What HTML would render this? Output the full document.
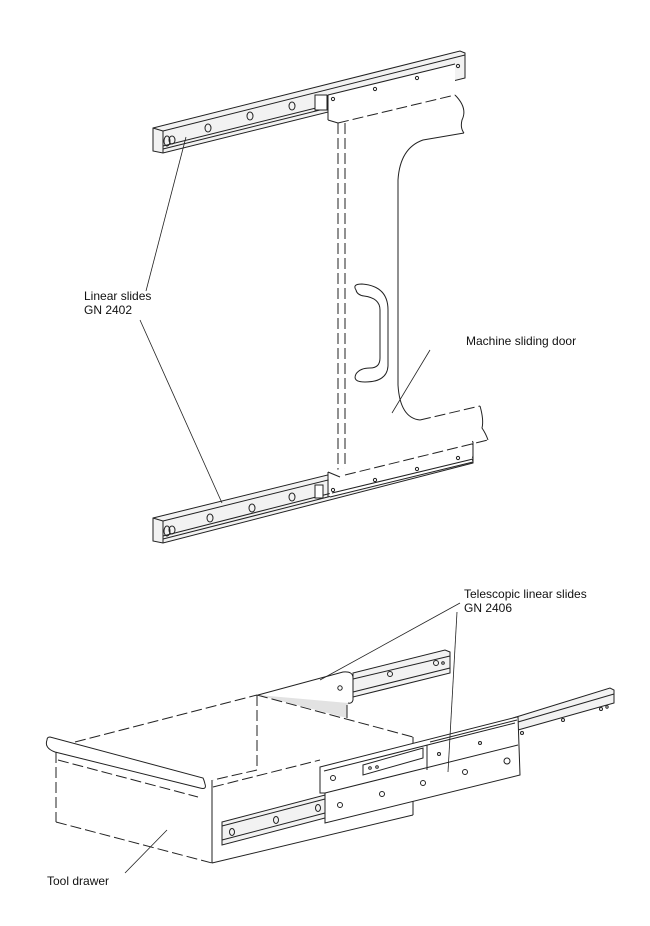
<!DOCTYPE html>
<html><head><meta charset="utf-8"><style>
html,body{margin:0;padding:0;background:#fff;}
svg{display:block}
text{font-family:"Liberation Sans",Arial,sans-serif;font-size:12px;fill:#111}
</style></head><body>
<svg width="650" height="926" viewBox="0 0 650 926" xmlns="http://www.w3.org/2000/svg">
<defs>
<style>.d{stroke-dasharray:11,4}</style>
</defs>
<!-- ========== TOP RAIL ========== -->
<g stroke="#222" stroke-width="1" fill="#f2f2f2">
<polygon points="153,128 460,51 465,53 465,78 163,153 153,151"/>
<line x1="163" y1="131" x2="465" y2="55"/>
<line x1="163" y1="131" x2="163" y2="153"/>
<line x1="163" y1="149" x2="328" y2="108"/>
<line x1="163" y1="146" x2="328" y2="105"/>
<line x1="153" y1="128" x2="163" y2="131"/>
<rect x="315" y="95" width="12" height="15" fill="#fff"/>
</g>
<g stroke="#222" stroke-width="1" fill="none">
<ellipse cx="167" cy="141" rx="3" ry="5"/><ellipse cx="172" cy="140" rx="3" ry="4"/>
<ellipse cx="208" cy="128" rx="3" ry="4"/><ellipse cx="250" cy="116" rx="3" ry="4"/>
<ellipse cx="292" cy="106" rx="3" ry="4"/>
</g>
<polygon points="328,95 455,64 455,95 328,120" fill="#fff" stroke="none"/>
<g stroke="#222" stroke-width="1" fill="none">
<line x1="328" y1="95" x2="455" y2="64"/>
<line x1="328" y1="95" x2="328" y2="120"/>
<line x1="328" y1="120" x2="338" y2="123"/>
<circle cx="333" cy="99" r="1.6"/><circle cx="375" cy="89" r="1.6"/>
<circle cx="417" cy="78" r="1.6"/><circle cx="458" cy="66" r="1.6"/>
</g>
<!-- ========== DOOR ========== -->
<g stroke="#222" stroke-width="1" fill="none">
<line class="d" x1="338" y1="123" x2="455" y2="95"/>
<line class="d" x1="338" y1="123" x2="338" y2="477"/>
<line class="d" x1="345" y1="123" x2="345" y2="477"/>
<path d="M455 95 Q468 108 462 120 Q460 128 464 133"/>
<path d="M464 133 L423 140 Q400 148 398 180 L398 385 Q400 418 420 420"/>
<path class="d" d="M420 420 L480 406"/>
<path d="M480 406 Q484 420 482 428 Q486 434 488 440"/>
<path d="M356 290 Q352 284 362 284 Q388 286 388 310 L388 366 Q387 382 365 382 Q352 382 356 374 Q360 368 370 368 Q380 368 380 358 L380 310 Q380 298 364 296 Q357 295 356 290Z"/>
</g>
<!-- ========== BOTTOM RAIL ========== -->
<g stroke="#222" stroke-width="1" fill="#f2f2f2">
<polygon points="153,518 470,440 473,442 473,463 163,543 153,541"/>
<line x1="163" y1="521" x2="473" y2="444"/>
<line x1="163" y1="521" x2="163" y2="543"/>
<line x1="163" y1="539" x2="473" y2="460"/>
<line x1="163" y1="536" x2="473" y2="457"/>
<line x1="153" y1="518" x2="163" y2="521"/>
<rect x="315" y="485" width="8" height="13" fill="#fff"/>
</g>
<polygon points="328,472 472,438 472,462 330,497" fill="#fff" stroke="none"/>
<g stroke="#222" stroke-width="1" fill="none">
<line x1="328" y1="472" x2="328" y2="497"/>
<line x1="328" y1="472" x2="340" y2="477"/>
<line class="d" x1="345" y1="475" x2="488" y2="440"/>
<line x1="330" y1="497" x2="473" y2="462"/>
<line x1="332" y1="493" x2="473" y2="459"/>
<circle cx="333" cy="490" r="1.6"/><circle cx="375" cy="480" r="1.6"/>
<circle cx="417" cy="469" r="1.6"/><circle cx="458" cy="458" r="1.6"/>
<ellipse cx="167" cy="531" rx="3" ry="5"/><ellipse cx="172" cy="530" rx="3" ry="4"/>
<ellipse cx="210" cy="518" rx="3" ry="4"/><ellipse cx="252" cy="508" rx="3" ry="4"/>
<ellipse cx="292" cy="497" rx="3" ry="4"/>
</g>
<g stroke="#222" stroke-width="0.8">
<line x1="186" y1="137" x2="146" y2="291"/>
<line x1="140" y1="320" x2="222" y2="503"/>
<line x1="430" y1="350" x2="392" y2="413"/>
</g>
<text x="84" y="300">Linear slides</text>
<text x="84" y="314">GN 2402</text>
<text x="466" y="345">Machine sliding door</text>

<!-- ========== DRAWER ========== -->
<polygon points="258,695 343,672 353,676 353,702 347,705 347,718" fill="#e2e2e2" stroke="none"/>
<g fill="none" stroke="#222" stroke-width="1">
<line class="d" x1="75" y1="742" x2="257" y2="695"/>
<line class="d" x1="257" y1="695" x2="413" y2="737"/>
<line class="d" x1="257" y1="695" x2="257" y2="770"/>
<line class="d" x1="257" y1="770" x2="213" y2="780"/>
<line class="d" x1="213" y1="787" x2="320" y2="760"/>
<line class="d" x1="56" y1="752" x2="56" y2="822"/>
<line class="d" x1="56" y1="822" x2="212" y2="863"/>
<line class="d" x1="58" y1="760" x2="198" y2="797"/>
<path d="M47 740 Q44 748 55 752 L200 788 Q207 790 205 784 Q204 780 203 778 L50 737 Q47 737 47 740 Z" fill="#fff"/>
<line x1="212" y1="780" x2="212" y2="863"/>
<line x1="212" y1="863" x2="413" y2="815"/>
<line x1="413" y1="737" x2="413" y2="815"/>
</g>
<g stroke="#222" stroke-width="1">
<polygon points="353,673 445,650 450,652 450,673 353,697" fill="#f2f2f2"/>
<line x1="353" y1="679" x2="450" y2="656"/>
<line x1="353" y1="692" x2="450" y2="668"/>
<path d="M258 695 L343 672 Q353 671 353 678 L353 700 Q352 704 348 703" fill="#fff"/>
<line x1="347" y1="705" x2="347" y2="718"/>
<circle cx="340" cy="688" r="2.2" fill="none"/>
<circle cx="390" cy="674" r="2.5" fill="none"/><circle cx="436" cy="663" r="2.5" fill="none"/>
<circle cx="443" cy="663" r="1.3" fill="none"/>
</g>
<g stroke="#222" stroke-width="1">
<polygon points="513,718 610,688 614,690 614,703 518,730" fill="#f2f2f2"/>
<line x1="518" y1="722" x2="614" y2="694"/>
<polygon points="222,822 325,795 325,818 222,845" fill="#f2f2f2"/>
<line x1="222" y1="826" x2="325" y2="799"/>
<line x1="222" y1="840" x2="325" y2="813"/>
<path d="M320 767 L517 717 L518 717 L520 775 L325 823 L325 793 L320 793 Z" fill="#fff"/>
<line x1="325" y1="793" x2="518" y2="745"/>
<line x1="324" y1="771" x2="515" y2="723"/>
<polygon points="363,765 423,748 423,758 363,775" fill="#fff"/>
<line x1="427" y1="745" x2="427" y2="770"/>
<line x1="430" y1="742" x2="517" y2="720"/>
</g>
<g stroke="#222" stroke-width="1" fill="none">
<circle cx="333" cy="778" r="2.5"/><circle cx="340" cy="805" r="2.5"/>
<circle cx="382" cy="794" r="2.5"/><circle cx="423" cy="783" r="2.5"/>
<circle cx="465" cy="772" r="2.5"/><circle cx="507" cy="761" r="3"/>
<circle cx="439" cy="754" r="1.5"/><circle cx="480" cy="743" r="1.5"/>
<circle cx="522" cy="733" r="1.5"/><circle cx="563" cy="720" r="1.5"/>
<circle cx="601" cy="709" r="1.5"/><circle cx="607" cy="707" r="1.2"/>
<circle cx="370" cy="768" r="1.3"/><circle cx="377" cy="767" r="1.3"/>
<ellipse cx="232" cy="832" rx="2.5" ry="3.5"/><ellipse cx="276" cy="820" rx="2.5" ry="3.5"/>
<ellipse cx="318" cy="808" rx="2.5" ry="3.5"/>
</g>
<g stroke="#222" stroke-width="0.8">
<line x1="460" y1="603" x2="320" y2="680"/>
<line x1="457" y1="612" x2="448" y2="772"/>
<line x1="125" y1="873" x2="167" y2="830"/>
</g>
<text x="464" y="598">Telescopic linear slides</text>
<text x="464" y="612">GN 2406</text>
<text x="47" y="885">Tool drawer</text>
</svg>
</body></html>
